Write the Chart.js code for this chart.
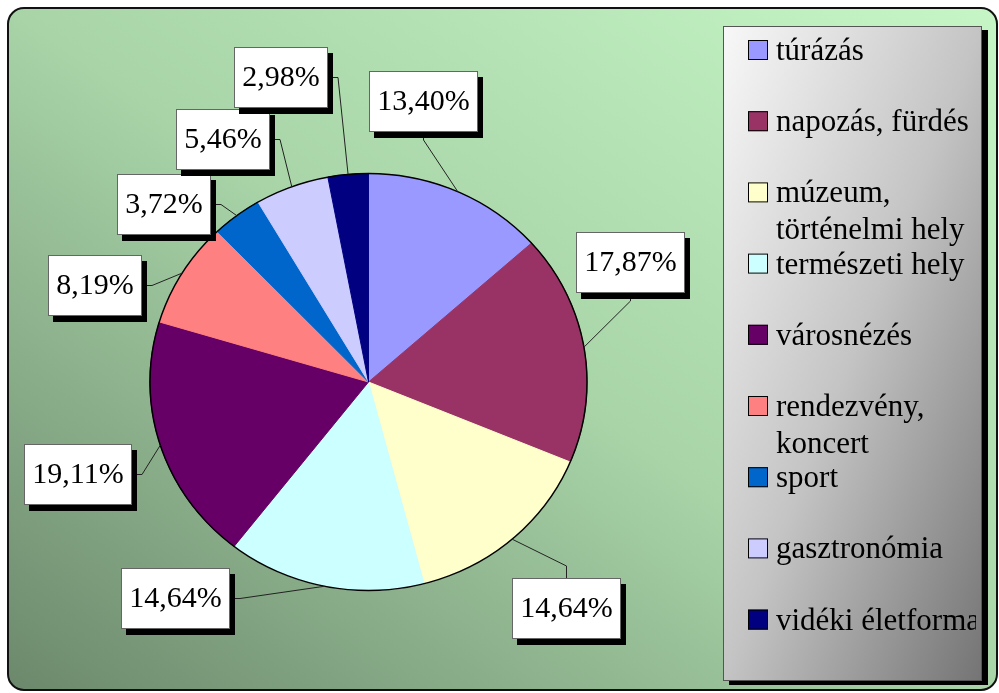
<!DOCTYPE html>
<html>
<head>
<meta charset="utf-8">
<script src="https://cdn.jsdelivr.net/npm/chart.js@4.4.1/dist/chart.umd.min.js"></script>
<style>
body{margin:0;background:#fff;}
canvas{display:block;}
#fontprobe{position:absolute;left:-9999px;top:0;font-family:"Liberation Serif";font-size:30px;}
</style>
</head>
<body>
<div id="fontprobe">13,40% túrázás</div>
<canvas id="pieChart" width="999" height="693"></canvas>
<script>
const categories = ['túrázás','napozás, fürdés','múzeum, történelmi hely','természeti hely','városnézés','rendezvény, koncert','sport','gasztronómia','vidéki életforma'];
const shares = [13.40,17.87,14.64,14.64,19.11,8.19,3.72,5.46,2.98];
const sliceColors = ['#9999FF','#993366','#FFFFCC','#CCFFFF','#660066','#FF8080','#0066CC','#CCCCFF','#000080'];

// where each value label sits: angle shift from slice middle (deg), distance from centre, leader side
const labelPlace = [
  {shift:-13, dist:286, side:'bottom'},
  {shift:-15, dist:288, side:'bottom'},
  {shift:0, dist:301, side:'top'},
  {shift:30, dist:290, side:'right'},
  {shift:0, dist:305, side:'right'},
  {shift:-12, dist:290, side:'right'},
  {shift:-12, dist:271, side:'right'},
  {shift:-10.5, dist:283, side:'right'},
  {shift:-10.6, dist:317, side:'right'}
];

const squash = 209 / 219; // pie is drawn a bit flatter than round
const serif = '"Liberation Serif", "DejaVu Serif", serif';

function diagGradient(ctx, x, y, w, h, fromBottomLeft, stops) {
  // iso-lines parallel to the other diagonal of the box
  let s = 2 * w * h / (w * w + h * h);
  let g;
  if (fromBottomLeft) g = ctx.createLinearGradient(x, y + h, x + s * h, y + h - s * w);
  else g = ctx.createLinearGradient(x, y, x + s * h, y + s * w);
  stops.forEach(st => g.addColorStop(st[0], st[1]));
  return g;
}

function wrapText(ctx, text, maxW) {
  let words = text.split(' ');
  let lines = [];
  let cur = '';
  words.forEach(w => {
    let t = cur ? cur + ' ' + w : w;
    if (ctx.measureText(t).width > maxW && cur) {
      lines.push(cur);
      cur = w;
    } else cur = t;
  });
  if (cur) lines.push(cur);
  return lines;
}

const decor = {
  id: 'decor',
  beforeDraw(chart) {
    const ctx = chart.ctx;
    ctx.save();
    ctx.fillStyle = '#fff';
    ctx.fillRect(0, 0, chart.width, chart.height);
    const fx = 8, fy = 8, fw = 989, fh = 682;
    ctx.beginPath();
    ctx.roundRect(fx, fy, fw, fh, 16);
    ctx.fillStyle = diagGradient(ctx, fx, fy, fw, fh, true,
      [[0, '#6c886c'], [0.5, '#a8d4a8'], [1, '#c6f6c6']]);
    ctx.fill();
    ctx.lineWidth = 2;
    ctx.strokeStyle = '#111';
    ctx.stroke();
    ctx.restore();
  },
  beforeDatasetsDraw(chart) {
    const arc = chart.getDatasetMeta(0).data[0];
    const ctx = chart.ctx;
    ctx.save();
    ctx.translate(arc.x, arc.y);
    ctx.scale(1, squash);
    ctx.translate(-arc.x, -arc.y);
  },
  afterDatasetsDraw(chart) {
    const ctx = chart.ctx;
    ctx.restore();
    const arcs = chart.getDatasetMeta(0).data;
    const cx = arcs[0].x, cy = arcs[0].y, r = arcs[0].outerRadius;

    ctx.save();
    ctx.beginPath();
    ctx.ellipse(cx, cy, r, r * squash, 0, 0, Math.PI * 2);
    ctx.lineWidth = 1.5;
    ctx.strokeStyle = '#000';
    ctx.stroke();

    ctx.font = '30px ' + serif;
    arcs.forEach((a, i) => {
      const mid = (a.startAngle + a.endAngle) / 2;
      const ax = cx + r * Math.cos(mid);
      const ay = cy + r * squash * Math.sin(mid);
      const p = labelPlace[i];
      const ang = mid + p.shift * Math.PI / 180;
      const lx = cx + p.dist * Math.cos(ang);
      const ly = cy + p.dist * Math.sin(ang);
      const txt = shares[i].toFixed(2).replace('.', ',') + '%';
      const bw = Math.round(ctx.measureText(txt).width + 17);
      const bh = 61;
      const bx = Math.round(lx - bw / 2), by = Math.round(ly - bh / 2);

      // leader line
      let sx, sy, ex, ey;
      if (p.side === 'right') { sx = bx + bw; sy = by + bh / 2; ex = sx + 10; ey = sy; }
      else if (p.side === 'left') { sx = bx; sy = by + bh / 2; ex = sx - 10; ey = sy; }
      else if (p.side === 'top') { sx = bx + bw / 2; sy = by; ex = sx; ey = sy - 12; }
      else { sx = bx + bw / 2; sy = by + bh; ex = sx; ey = sy + 8; }
      ctx.beginPath();
      ctx.moveTo(sx, sy);
      ctx.lineTo(ex, ey);
      ctx.lineTo(ax, ay);
      ctx.lineWidth = 1;
      ctx.strokeStyle = '#222';
      ctx.stroke();

      ctx.fillStyle = '#000';
      ctx.fillRect(bx + 5, by + 6, bw, bh);
      ctx.fillStyle = '#fff';
      ctx.fillRect(bx, by, bw, bh);
      ctx.strokeStyle = '#666';
      ctx.strokeRect(bx + 0.5, by + 0.5, bw - 1, bh - 1);
      ctx.fillStyle = '#000';
      ctx.textAlign = 'center';
      ctx.textBaseline = 'middle';
      ctx.fillText(txt, bx + bw / 2, by + bh / 2 + 1);
    });
    ctx.restore();
  },
  afterDraw(chart) {
    const ctx = chart.ctx;
    const lx = 723, ly = 26, lw = 259, lh = 655;
    ctx.save();
    ctx.fillStyle = '#000';
    ctx.fillRect(lx + 6, ly + 4, lw, lh);
    ctx.fillStyle = diagGradient(ctx, lx, ly, lw, lh, false,
      [[0, '#f8f8f8'], [0.5, '#c4c4c4'], [1, '#747474']]);
    ctx.fillRect(lx, ly, lw, lh);
    ctx.strokeStyle = '#555';
    ctx.lineWidth = 1;
    ctx.strokeRect(lx + 0.5, ly + 0.5, lw - 1, lh - 1);

    ctx.beginPath();
    ctx.rect(lx, ly, lw - 6, lh);
    ctx.clip();
    ctx.font = '31px ' + serif;
    ctx.textAlign = 'left';
    ctx.textBaseline = 'alphabetic';
    const slot = 71.2;
    categories.forEach((c, i) => {
      const base = ly + 34 + i * slot;
      ctx.fillStyle = sliceColors[i];
      ctx.fillRect(748, base - 20, 20, 20);
      ctx.strokeStyle = '#000';
      ctx.strokeRect(748.5, base - 19.5, 19, 19);
      ctx.fillStyle = '#000';
      wrapText(ctx, c, 208).forEach((line, k) => {
        ctx.fillText(line, 776, base + k * 37);
      });
    });
    ctx.restore();
  }
};

function drawChart() {
  new Chart(document.getElementById('pieChart'), {
    type: 'pie',
    data: {
      labels: categories,
      datasets: [{
        data: shares,
        backgroundColor: sliceColors,
        borderColor: sliceColors,
        borderWidth: 1,
        hoverBorderWidth: 0,
        hoverOffset: 0
      }]
    },
    options: {
      responsive: false,
      animation: false,
      events: [],
      layout: {padding: {left: 149.5, right: 411.5, top: 163, bottom: 92}},
      plugins: {
        legend: {display: false},
        tooltip: {enabled: false}
      }
    },
    plugins: [decor]
  });
}

Promise.all([
  document.fonts.load('30px "Liberation Serif"'),
  document.fonts.load('31px "Liberation Serif"')
]).then(drawChart, drawChart);
</script>
</body>
</html>
